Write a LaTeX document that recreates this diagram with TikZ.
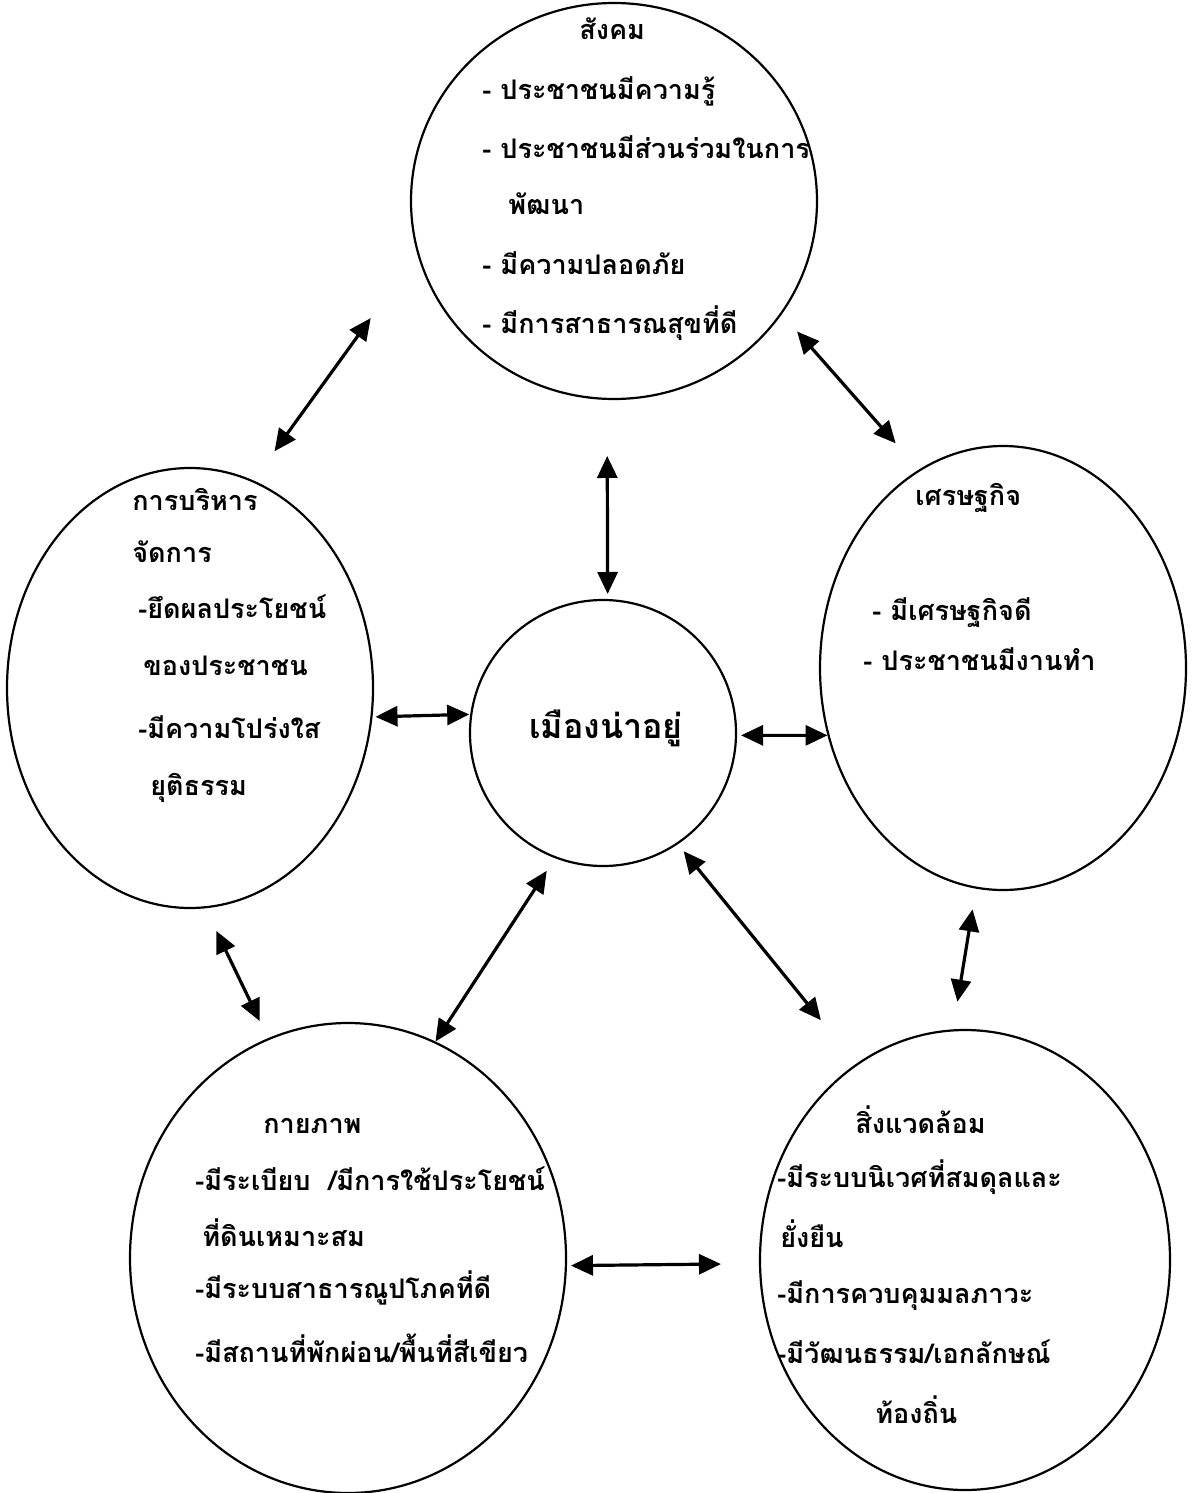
\documentclass[tikz,border=0pt]{standalone}
\usepackage{fontspec}
\newfontfamily\thaifont[Script=Thai]{Loma}
\usetikzlibrary{arrows.meta,shapes.geometric}

\begin{document}
\begin{tikzpicture}[x=0.5pt,y=-0.5pt,
  zone/.style={ellipse, draw, line width=1.1pt, inner sep=0pt},
  lbl/.style={anchor=base west, inner sep=0pt, font=\thaifont\bfseries\fontsize{13.5}{16}\selectfont},
  link/.style={{Triangle[length=11pt,width=10pt]}-{Triangle[length=11pt,width=10pt]}, line width=1.6pt}]
\useasboundingbox (0,0) rectangle (1194,1493);
% circles
\node[zone, minimum width=203pt, minimum height=198pt] (soc) at (614,201){};
\node[zone, minimum width=183pt, minimum height=220pt] (adm) at (190,688){};
\node[zone, minimum width=183pt, minimum height=222pt] (eco) at (1003,668){};
\node[zone, circle, minimum size=133pt] (city) at (603,733){};
\node[zone, minimum width=218pt, minimum height=235pt] (phy) at (348,1258){};
\node[zone, minimum width=205pt, minimum height=230pt] (env) at (965,1260){};
% texts
\node[lbl] (s0) at (579,40){สังคม};
\node[lbl] (s1) at (482,100){- ประชาชนมีความรู้};
\node[lbl] (s2) at (482,158){- ประชาชนมีส่วนร่วมในการ};
\node[lbl] (s3) at (508,214){พัฒนา};
\node[lbl] (s4) at (482,274){- มีความปลอดภัย};
\node[lbl] (s5) at (482,333){- มีการสาธารณสุขที่ดี};
\node[lbl] (a0) at (132,510){การบริหาร};
\node[lbl] (a1) at (132,562){จัดการ};
\node[lbl] (a2) at (138,618){-ยึดผลประโยชน์};
\node[lbl] (a3) at (143,675){ของประชาชน};
\node[lbl] (a4) at (138,738){-มีความโปร่งใส};
\node[lbl] (a5) at (150,795){ยุติธรรม};
\node[lbl] (e0) at (915,505){เศรษฐกิจ};
\node[lbl] (e1) at (872,620){- มีเศรษฐกิจดี};
\node[lbl] (e2) at (863,670){- ประชาชนมีงานทำ};
\node[lbl, anchor=base, font=\thaifont\bfseries\fontsize{17}{19}\selectfont] (c0) at (606,738){เมืองน่าอยู่};
\node[lbl] (p0) at (263,1133){กายภาพ};
\node[lbl] (p1) at (195,1190){-มีระเบียบ\hspace{9pt}/มีการใช้ประโยชน์};
\node[lbl] (p2) at (202,1246){ที่ดินเหมาะสม};
\node[lbl] (p3) at (195,1298){-มีระบบสาธารณูปโภคที่ดี};
\node[lbl] (p4) at (195,1362){-มีสถานที่พักผ่อน/พื้นที่สีเขียว};
\node[lbl] (v0) at (855,1133){สิ่งแวดล้อม};
\node[lbl] (v1) at (777,1187){-มีระบบนิเวศที่สมดุลและ};
\node[lbl] (v2) at (780,1247){ยั่งยืน};
\node[lbl] (v3) at (777,1303){-มีการควบคุมมลภาวะ};
\node[lbl] (v4) at (777,1363){-มีวัฒนธรรม/เอกลักษณ์};
\node[lbl] (v5) at (875,1423){ท้องถิ่น};
% arrows
\draw[link, shorten <=39.7pt, shorten >=18pt] (soc.195) -- (adm.73);
\draw[link, shorten <=11.5pt, shorten >=17.5pt] (soc.326.4) -- (eco.113.5);
\draw[link, shorten <=28pt, shorten >=2.5pt] (soc.268.3) -- (city.88);
\draw[link, shorten <=1.5pt, shorten >=0.5pt] (adm.351.5) -- (city.172);
\draw[link, shorten <=2pt, shorten >=0pt] (city.359) -- (eco.201);
\draw[link, shorten <=12.5pt, shorten >=9.5pt] (adm.274.4) -- (phy.110.7);
\draw[link, shorten <=7.5pt] (city.249.5) -- (phy.68.7);
\draw[link, shorten <=4.5pt, shorten >=28pt] (city.304) -- (env.119.5);
\draw[link, shorten <=10.5pt, shorten >=14pt] (eco.263.2) -- (env.93.8);
\draw[link, shorten <=2pt, shorten >=19pt] (phy.358) -- (env.181);
\end{tikzpicture}
\end{document}
